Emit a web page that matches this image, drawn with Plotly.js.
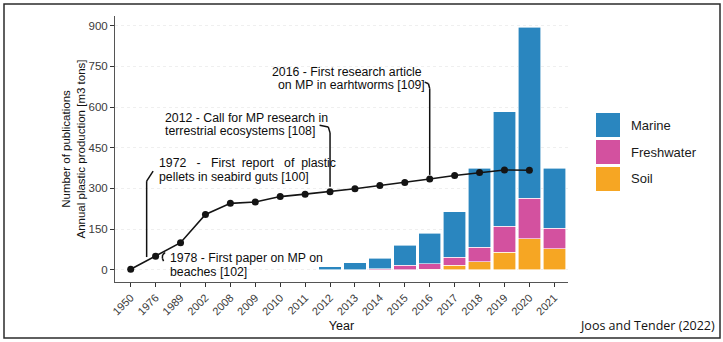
<!DOCTYPE html>
<html>
<head>
<meta charset="utf-8">
<script src="https://cdn.plot.ly/plotly-3.0.1.min.js"></script>
<style>html,body{margin:0;padding:0;background:#fff}#chart{width:723px;height:342px}</style>
</head>
<body>
<div id="chart"></div>
<script>
// ---------- data ----------
const years = ['1950','1976','1989','2002','2008','2009','2010','2011','2012','2013','2014','2015','2016','2017','2018','2019','2020','2021'];
const production = [2, 50, 100, 204, 245, 250, 270, 279, 288, 299, 311, 322, 335, 348, 359, 368, 367, null];
const marine     = [null, null, null, null, null, null, null, null, 11, 26, 38, 75, 111, 168, 292, 422, 632, 222];
const freshwater = [null, null, null, null, null, null, null, null, 0, 0, 4, 16, 21, 29, 53, 97, 149, 76];
const soil       = [null, null, null, null, null, null, null, null, 0, 0, 0, 0, 2, 17, 30, 64, 114, 77];
const seriesNames = ['Marine', 'Freshwater', 'Soil'];
const seriesColors = ['#2a86bf', '#d3519f', '#f6a623'];
const yTickVals = [0, 150, 300, 450, 600, 750, 900];
const yTitle = 'Number of publications<br>Annual plastic production [m3 tons]';
const xTitle = 'Year';
const credit = 'Joos and Tender (2022)';
const eventLines = [
  ['1972\u00a0\u00a0 -\u00a0\u00a0 First\u00a0 report\u00a0\u00a0 of\u00a0 plastic', 'pellets in seabird guts [100]'],
  ['2012 - Call for MP research in', 'terrestrial ecosystems [108]'],
  ['2016 - First research article', 'on MP in earhtworms [109]'],
  ['1978 - First paper on MP on', 'beaches [102]']
];

// ---------- geometry helpers (pixel -> paper) ----------
const W = 723, H = 342;
const L = 115, R = 568, T = 16, B = 282;
const px = x => (x - L) / (R - L);
const py = y => (B - y) / (B - T);

// ---------- traces ----------
const stack = [soil, freshwater, marine];
const stackIdx = [2, 1, 0];
const traces = stack.map((vals, k) => ({
  type: 'bar',
  x: years,
  y: vals,
  name: seriesNames[stackIdx[k]],
  marker: {color: seriesColors[stackIdx[k]], line: {color: '#ffffff', width: 0.6}},
  width: 0.9,
  showlegend: false,
  hoverinfo: 'x+y+name'
}));
traces.push({
  type: 'scatter',
  mode: 'lines+markers',
  x: years,
  y: production,
  name: 'Annual plastic production',
  line: {color: '#141414', width: 1.6},
  marker: {color: '#141414', size: 7},
  showlegend: false,
  connectgaps: false
});

// ---------- annotation texts ----------
const txtFont = {family: 'Liberation Sans, Arial, sans-serif', size: 12.3, color: '#0d0d0d'};
const textPos = [
  [[157, 163], [157, 177]],
  [[163, 118], [163, 131]],
  [[270, 72], [276, 85]],
  [[168, 258], [168, 272]]
];
const annotations = [];
eventLines.forEach((lines, i) => {
  lines.forEach((t, j) => {
    annotations.push({
      xref: 'paper', yref: 'paper',
      x: px(textPos[i][j][0]), y: py(textPos[i][j][1]),
      xanchor: 'left', yanchor: 'middle',
      text: t, showarrow: false, font: txtFont
    });
  });
});

// legend (custom, large squares)
const shapes = [];
const legTop = [113, 140, 167];
seriesNames.forEach((n, i) => {
  shapes.push({
    type: 'rect', xref: 'paper', yref: 'paper',
    x0: px(596), x1: px(620), y0: py(legTop[i]), y1: py(legTop[i] + 24),
    fillcolor: seriesColors[i], line: {width: 0}
  });
  annotations.push({
    xref: 'paper', yref: 'paper', x: px(629), y: py(legTop[i] + 12),
    xanchor: 'left', yanchor: 'middle', text: n, showarrow: false,
    font: {family: 'Liberation Sans, Arial, sans-serif', size: 13, color: '#1a1a1a'}
  });
});

// credit
annotations.push({
  xref: 'paper', yref: 'paper', x: px(717), y: py(325),
  xanchor: 'right', yanchor: 'middle', text: credit, showarrow: false,
  font: {family: 'Open Sans, sans-serif', size: 12.5, color: '#111'}
});

// connector leaders (data coords: category index, value)
const i2012 = years.indexOf('2012'), i2016 = years.indexOf('2016');
const leaders = [
  [[0.64, 47], [0.64, 327], [0.9, 364]],
  [[7.58, 533], [7.93, 527], [i2012, 505], [i2012, production[i2012] + 18]],
  [[11.8, 692], [11.95, 686], [i2016, 668], [i2016, production[i2016] + 15]],
  [[1.38, 64], [1.28, 55], [1.27, 42], [1.32, 32]]
];
leaders.forEach(pts => {
  for (let k = 0; k < pts.length - 1; k++) {
    shapes.push({
      type: 'line', xref: 'x', yref: 'y',
      x0: pts[k][0], y0: pts[k][1], x1: pts[k + 1][0], y1: pts[k + 1][1],
      line: {color: '#111', width: 1.5}
    });
  }
});

// frame
shapes.push({
  type: 'rect', xref: 'paper', yref: 'paper',
  x0: px(4), x1: px(720), y0: py(4), y1: py(338),
  line: {color: '#2b2b2b', width: 1.5}, fillcolor: 'rgba(0,0,0,0)'
});

const layout = {
  width: W, height: H,
  margin: {l: L, r: W - R, t: T, b: H - B, pad: 0},
  paper_bgcolor: '#ffffff', plot_bgcolor: '#ffffff',
  barmode: 'stack',
  font: {family: 'Liberation Sans, Arial, sans-serif', color: '#333'},
  xaxis: {
    type: 'category', range: [-0.63, 17.55], automargin: false,
    tickangle: -45, tickfont: {size: 11, color: '#3a3a3a'},
    ticks: 'outside', ticklen: 4, tickcolor: '#333',
    showline: true, linecolor: '#555', linewidth: 1,
    showgrid: false, zeroline: false,
    title: {text: xTitle, font: {size: 12.5, color: '#111'}, standoff: 4}
  },
  yaxis: {
    range: [-45, 936], automargin: false,
    tickvals: yTickVals, tickfont: {size: 11.5, color: '#3a3a3a'},
    ticks: 'outside', ticklen: 4, tickcolor: '#333',
    showline: true, linecolor: '#555', linewidth: 1,
    showgrid: true, gridcolor: '#efefef', griddash: 'dot',
    zeroline: false,
    title: {text: yTitle, font: {size: 11.5, color: '#111'}, standoff: 0}
  },
  annotations: annotations,
  shapes: shapes,
  showlegend: false
};

Plotly.newPlot('chart', traces, layout, {displayModeBar: false, staticPlot: true});
</script>
</body>
</html>
